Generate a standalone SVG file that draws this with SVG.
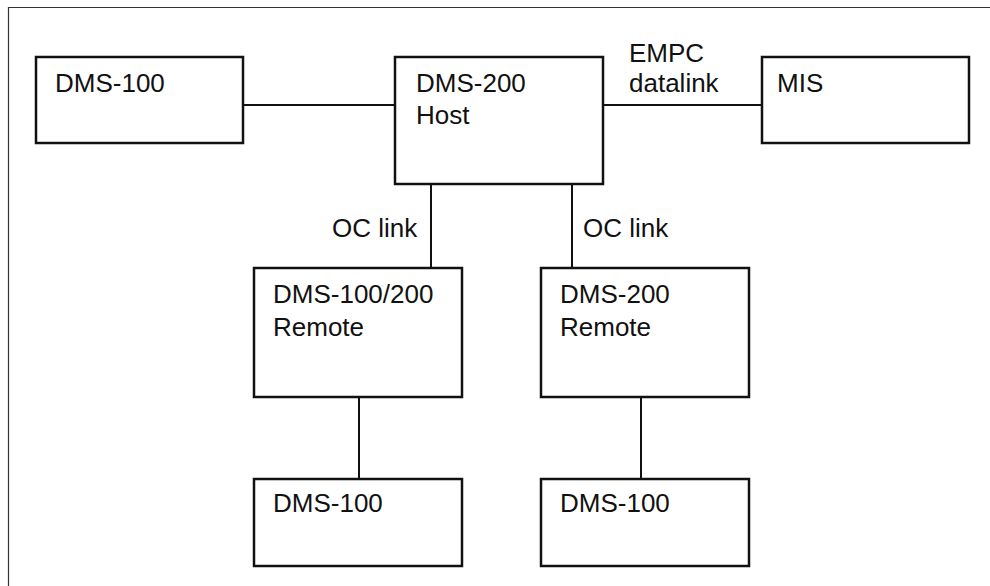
<svg xmlns="http://www.w3.org/2000/svg" width="990" height="586" viewBox="0 0 990 586">
<style>
.box{fill:#fff;stroke:#111;stroke-width:2.5}
.lbl{font-family:"Liberation Sans",Arial,sans-serif;font-size:26px;fill:#111}
.ln{stroke:#111;stroke-width:2;fill:none}
.frame{stroke:#333;stroke-width:1.2;fill:none}
</style>
<rect width="990" height="586" fill="#fff"/>
<path class="frame" d="M8.5 586 V7.5 H990"/>
<g id="connectors">
<line class="ln" x1="243" y1="105" x2="395" y2="105"/>
<line class="ln" x1="603" y1="105" x2="763" y2="105"/>
<line class="ln" x1="431" y1="184" x2="431" y2="268"/>
<line class="ln" x1="572" y1="184" x2="572" y2="268"/>
<line class="ln" x1="359" y1="397" x2="359" y2="479"/>
<line class="ln" x1="641" y1="397" x2="641" y2="479"/>
<text class="lbl" x="629" y="62">EMPC</text>
<text class="lbl" x="629" y="92">datalink</text>
<text class="lbl" x="332" y="237">OC link</text>
<text class="lbl" x="583" y="237">OC link</text>
</g>
<g id="dms100-left">
<rect class="box" x="36" y="57" width="207" height="86"/>
<text class="lbl" x="55" y="92">DMS-100</text>
</g>
<g id="dms200-host">
<rect class="box" x="395" y="57" width="208" height="127"/>
<text class="lbl" x="416" y="92">DMS-200</text>
<text class="lbl" x="416" y="124">Host</text>
</g>
<g id="mis">
<rect class="box" x="762" y="57" width="207" height="86"/>
<text class="lbl" x="777" y="92">MIS</text>
</g>
<g id="remote-100-200">
<rect class="box" x="254" y="268" width="208" height="129"/>
<text class="lbl" x="273" y="303">DMS-100/200</text>
<text class="lbl" x="273" y="336">Remote</text>
</g>
<g id="remote-200">
<rect class="box" x="541" y="268" width="208" height="129"/>
<text class="lbl" x="560" y="303">DMS-200</text>
<text class="lbl" x="560" y="336">Remote</text>
</g>
<g id="dms100-bottom-left">
<rect class="box" x="254" y="479" width="208" height="87"/>
<text class="lbl" x="273" y="512">DMS-100</text>
</g>
<g id="dms100-bottom-right">
<rect class="box" x="541" y="479" width="208" height="87"/>
<text class="lbl" x="560" y="512">DMS-100</text>
</g>
</svg>
